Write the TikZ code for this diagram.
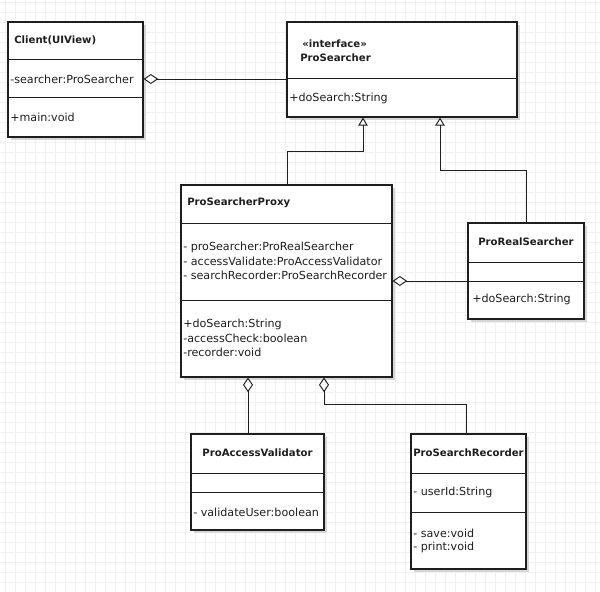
\documentclass[tikz,border=0pt]{standalone}
\usepackage{fontspec}
\setmainfont{DejaVu Sans}
\usetikzlibrary{arrows.meta,fit,shadows}
\definecolor{gridc}{RGB}{238,240,242}
\definecolor{ink}{RGB}{30,30,30}
\begin{document}
\begin{tikzpicture}[x=0.75pt,y=-0.75pt,
  txt/.style={font=\fontsize{8.35pt}{10pt}\selectfont, inner sep=0pt, text=ink},
  ttl/.style={txt, font=\fontsize{7.6pt}{10pt}\selectfont\bfseries},
  umlbox/.style={draw=ink, line width=0.8pt, fill=white, inner sep=0pt,
    drop shadow={shadow xshift=2pt, shadow yshift=-2pt, fill=black!16, opacity=1}},
  divline/.style={draw=ink, line width=0.75pt},
  conn/.style={draw=ink, line width=0.7pt},
  aggr/.style={conn, -{Diamond[open, length=11pt, width=7.5pt, line width=0.7pt]}},
  inh/.style={conn, -{Triangle[open, length=6pt, width=7pt, line width=0.7pt]}}
]
\useasboundingbox (0,0) rectangle (600,592);
\fill[white] (0,0) rectangle (600,592);
% grid
\foreach \gx in {5,15,...,595} \draw[gridc, line width=0.6pt] (\gx,0) -- (\gx,592);
\foreach \gy in {2,12,...,592} \draw[gridc, line width=0.6pt] (0,\gy) -- (600,\gy);

% Client
\node[umlbox, fit={(8,22) (143,137)}] (client) {};
\draw[divline] (8,60) -- (143,60);
\draw[divline] (8,98) -- (143,98);
\node[ttl, anchor=west] (clientT) at (14,40) {Client(UIView)};
\node[txt, anchor=west] (clientA) at (10,79) {-searcher:ProSearcher};
\node[txt, anchor=west] (clientM) at (10,117) {+main:void};

% ProSearcher
\node[umlbox, fit={(287,22) (517,117)}] (psearch) {};
\draw[divline] (287,79) -- (517,79);
\node[ttl, anchor=west] (psI) at (302,44) {«interface»};
\node[ttl, anchor=west] (psT) at (300,58) {ProSearcher};
\node[txt, anchor=west] (psM) at (289,98) {+doSearch:String};

% ProSearcherProxy
\node[umlbox, fit={(181,185) (392,377)}] (proxy) {};
\draw[divline] (181,223) -- (392,223);
\draw[divline] (181,300) -- (392,300);
\node[ttl, anchor=west] (pxT) at (187,203) {ProSearcherProxy};
\node[txt, anchor=west] (pxA1) at (183,247) {- proSearcher:ProRealSearcher};
\node[txt, anchor=west] (pxA2) at (183,261) {- accessValidate:ProAccessValidator};
\node[txt, anchor=west] (pxA3) at (183,275) {- searchRecorder:ProSearchRecorder};
\node[txt, anchor=west] (pxM1) at (183,324) {+doSearch:String};
\node[txt, anchor=west] (pxM2) at (183,338) {-accessCheck:boolean};
\node[txt, anchor=west] (pxM3) at (183,352) {-recorder:void};

% ProRealSearcher
\node[umlbox, fit={(468,223) (584,319)}] (real) {};
\draw[divline] (468,262) -- (584,262);
\draw[divline] (468,281) -- (584,281);
\node[ttl] (realT) at (526,242) {ProRealSearcher};
\node[txt, anchor=west] (realM) at (472,299) {+doSearch:String};

% ProAccessValidator
\node[umlbox, fit={(191,434) (324,530)}] (valid) {};
\draw[divline] (191,473) -- (324,473);
\draw[divline] (191,492) -- (324,492);
\node[ttl] (validT) at (257.5,453) {ProAccessValidator};
\node[txt, anchor=west] (validM) at (193,512) {- validateUser:boolean};

% ProSearchRecorder
\node[umlbox, fit={(411,434) (526,569)}] (rec) {};
\draw[divline] (411,473) -- (526,473);
\draw[divline] (411,512) -- (526,512);
\node[ttl] (recT) at (468.5,453) {ProSearchRecorder};
\node[txt, anchor=west] (recA) at (413,492) {- userId:String};
\node[txt, anchor=west] (recM1) at (413,533) {- save:void};
\node[txt, anchor=west] (recM2) at (413,547) {- print:void};

% connectors
\draw[aggr] (psearch.west |- 0,79) -- (client.east |- 0,79);
\draw[inh] (proxy.north -| 287,0) -- (287,151) -- (363,151) -- (psearch.south -| 363,0);
\draw[inh] (real.north) -- (526,170) -- (440,170) -- (psearch.south -| 440,0);
\draw[aggr] (real.west |- 0,281) -- (proxy.east |- 0,281);
\draw[aggr] (valid.north -| 248,0) -- (proxy.south -| 248,0);
\draw[aggr] (rec.north -| 466,0) -- (466,404) -- (324,404) -- (proxy.south -| 324,0);
\end{tikzpicture}
\end{document}
